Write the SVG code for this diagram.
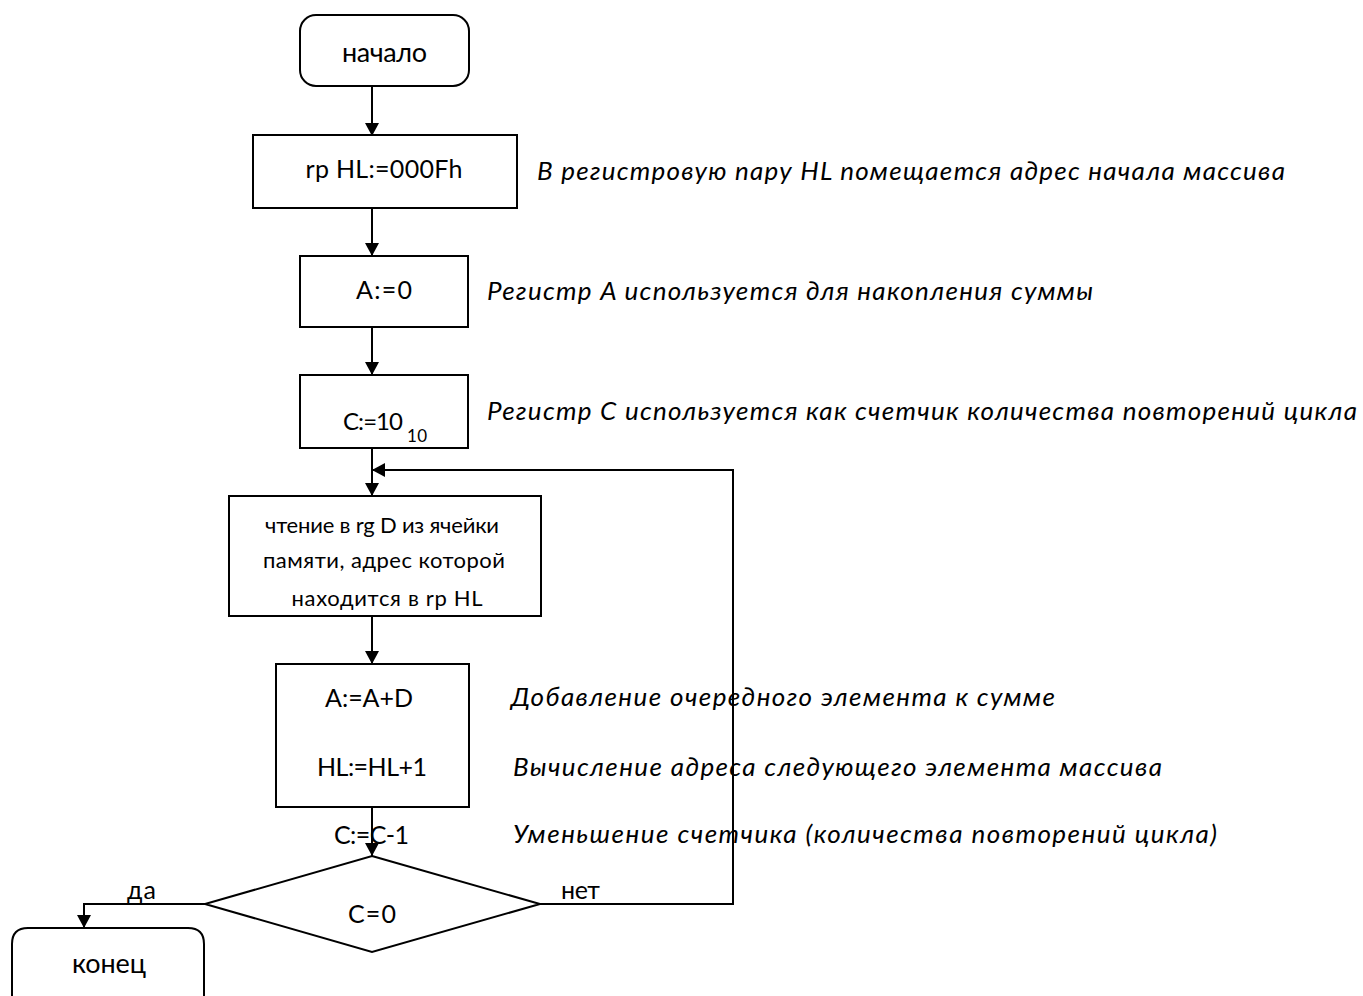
<svg xmlns="http://www.w3.org/2000/svg" width="1363" height="996" viewBox="0 0 1363 996">
<style>
.box{fill:#fff;stroke:#000;stroke-width:2}
.ln{fill:none;stroke:#000;stroke-width:2}
.t{font-family:Lato,"Open Sans","Liberation Sans",sans-serif;font-size:27px;fill:#000}
.m{font-size:25px}
.s{font-size:22px}
.sub{font-size:17px}
.i{font-family:Lato,"Open Sans","Liberation Sans",sans-serif;font-size:26px;font-style:italic;fill:#000}
</style>
<defs>
<marker id="ah" markerUnits="userSpaceOnUse" markerWidth="14" markerHeight="14" refX="13" refY="7" orient="auto">
<path d="M0,0 L13,7 L0,14 z" fill="#000"/>
</marker>
</defs>
<rect width="1363" height="996" fill="#fff"/>
<g id="connectors">
<line class="ln" x1="372" y1="86" x2="372" y2="136" marker-end="url(#ah)"/>
<line class="ln" x1="372" y1="208" x2="372" y2="256" marker-end="url(#ah)"/>
<line class="ln" x1="372" y1="327" x2="372" y2="375" marker-end="url(#ah)"/>
<line class="ln" x1="372" y1="448" x2="372" y2="496" marker-end="url(#ah)"/>
<line class="ln" x1="372" y1="616" x2="372" y2="664" marker-end="url(#ah)"/>
<line class="ln" x1="372" y1="807" x2="372" y2="856" marker-end="url(#ah)"/>
<polyline class="ln" points="540,904 733,904 733,470 372,470" marker-end="url(#ah)"/>
<polyline class="ln" points="205,904 84,904 84,928" marker-end="url(#ah)"/>
<text class="t m" x="127" y="899" textLength="29">да</text>
<text class="t m" x="561" y="899" textLength="39">нет</text>
</g>
<g id="start">
<rect class="box" x="300" y="15" width="169" height="71" rx="16"/>
<text class="t" x="384.5" y="62" text-anchor="middle" textLength="85">начало</text>
</g>
<g id="n1">
<rect class="box" x="253" y="135" width="264" height="73"/>
<text class="t m" x="384" y="178" text-anchor="middle" textLength="157">rp HL:=000Fh</text>
</g>
<g id="n2">
<rect class="box" x="300" y="256" width="168" height="71"/>
<text class="t m" x="384" y="299" text-anchor="middle" textLength="56">A:=0</text>
</g>
<g id="n3">
<rect class="box" x="300" y="375" width="168" height="73"/>
<text class="t" x="343" y="430" style="font-size:24px" textLength="60">C:=10</text>
<text class="t sub" x="407" y="442" textLength="20">10</text>
</g>
<g id="n4">
<rect class="box" x="229" y="496" width="312" height="120"/>
<text class="t s" x="382" y="533" text-anchor="middle" textLength="234">чтение в rg D из ячейки</text>
<text class="t s" x="384" y="568" text-anchor="middle" textLength="242">памяти, адрес которой</text>
<text class="t s" x="387" y="606" text-anchor="middle" textLength="191">находится в rp HL</text>
</g>
<g id="n5">
<rect class="box" x="276" y="664" width="193" height="143"/>
<text class="t m" x="369" y="707" text-anchor="middle" textLength="88">A:=A+D</text>
<text class="t m" x="372" y="776" text-anchor="middle" textLength="110">HL:=HL+1</text>
</g>
<g id="dec">
<text class="t m" x="334" y="844" textLength="75">C:=C-1</text>
</g>
<g id="cond">
<polygon class="box" points="372,856 540,904 372,952 205,904"/>
<text class="t m" x="372" y="923" text-anchor="middle" textLength="48">C=0</text>
</g>
<g id="end">
<path class="box" d="M12,996 L12,944 Q12,928 28,928 L188,928 Q204,928 204,944 L204,996"/>
<text class="t" x="109" y="973" text-anchor="middle" textLength="74">конец</text>
</g>
<g id="notes">
<text class="i" x="537" y="180" textLength="748">В регистровую пару HL помещается адрес начала массива</text>
<text class="i" x="487" y="300" textLength="606">Регистр A используется для накопления суммы</text>
<text class="i" x="487" y="420" textLength="870">Регистр C используется как счетчик количества повторений цикла</text>
<text class="i" x="511" y="706" textLength="544">Добавление очередного элемента к сумме</text>
<text class="i" x="513" y="776" textLength="649">Вычисление адреса следующего элемента массива</text>
<text class="i" x="513" y="843" textLength="704">Уменьшение счетчика (количества повторений цикла)</text>
</g>
</svg>
